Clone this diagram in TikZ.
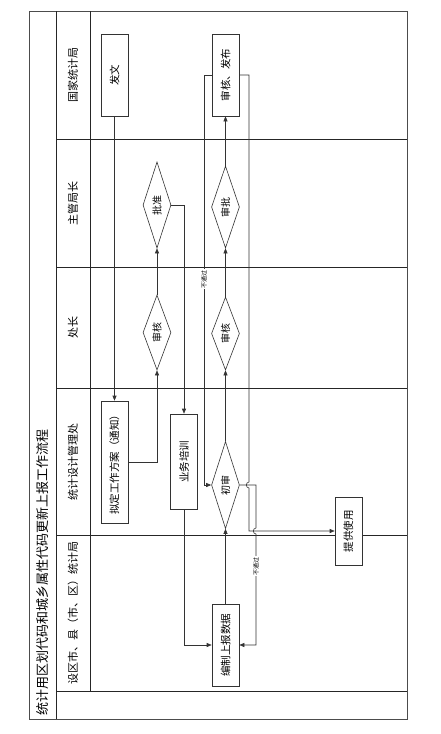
\documentclass[tikz,border=0pt]{standalone}
\usepackage{graphicx}
\usepackage{fontspec}
\newfontfamily\cjk{Noto Sans CJK SC}
\usetikzlibrary{shapes.geometric,arrows.meta}
\newcommand{\rt}[1]{\rotatebox{90}{#1}}
\begin{document}
\begin{tikzpicture}[x=1pt,y=-1pt,
  framel/.style={draw=black!70, line width=0.7pt},
  lanel/.style={draw=black!85, line width=0.7pt},
  box/.style={draw=black!80, line width=0.6pt, minimum width=27pt, inner sep=0pt, fill=white, font=\cjk\fontsize{10.5}{11}\selectfont},
  dia/.style={draw=black!80, line width=0.6pt, shape=diamond, shape aspect=0.34, minimum width=28pt, inner sep=0pt, fill=white, font=\cjk\fontsize{10}{10}\selectfont},
  conn/.style={draw=black!80, line width=0.6pt},
  arr/.style={conn, -{Triangle[length=5pt,width=4pt]}},
  lbl/.style={font=\cjk\fontsize{6}{6}\selectfont, fill=white, inner sep=0.6pt},
  lane/.style={font=\cjk\fontsize{11}{11}\selectfont, inner sep=0pt},
  ttl/.style={font=\cjk\fontsize{13}{13}\selectfont, inner sep=0pt}
]
\useasboundingbox (0,0) rectangle (440,734);

% frame
\draw[framel] (29,11) rectangle (407,719);
\draw[lanel] (56,11) -- (56,719);
\draw[lanel] (90,11) -- (90,691);
\foreach \yy in {139,267,388,535,691} \draw[lanel] (56,\yy) -- (407,\yy);

% title and lane labels
\node[ttl, anchor=south] (title) at (43,716) {\rt{统计用区划代码和城乡属性代码更新上报工作流程}};
\node[lane] (l1) at (73,75) {\rt{国家统计局}};
\node[lane] (l2) at (73,203) {\rt{主管局长}};
\node[lane] (l3) at (73,327.5) {\rt{处长}};
\node[lane] (l4) at (73,461.5) {\rt{统计设计管理处}};
\node[lane] (l5) at (73,613) {\rt{设区市、县（市、区）统计局}};

% nodes
\node[box, minimum height=82pt] (fawen) at (114.5,75) {\rt{发文}};
\node[box, minimum height=82pt] (shfb) at (225.5,75) {\rt{审核、发布}};
\node[dia, minimum height=86pt] (pz) at (157,205) {\rt{批准}};
\node[dia, minimum height=82pt] (sp) at (225.5,207) {\rt{审批}};
\node[dia, minimum height=75pt] (sh1) at (157,332.5) {\rt{审核}};
\node[dia, minimum height=73pt] (sh2) at (225.5,333.5) {\rt{审核}};
\node[box, minimum height=122pt] (nd) at (114.5,462) {\rt{拟定工作方案（通知）}};
\node[box, minimum height=95pt] (px) at (184,461.5) {\rt{业务培训}};
\node[dia, minimum height=87pt] (cs) at (225.5,485) {\rt{初审}};
\node[box, minimum height=68pt] (tg) at (348.5,531) {\rt{提供使用}};
\node[box, minimum height=82pt] (bz) at (225.5,645) {\rt{编制上报数据}};

% connectors
\draw[arr] (fawen.south) -- (nd.north);
\draw[arr] (nd.east) -| (sh1.south);
\draw[arr] (sh1.north) -- (pz.south);
\draw[arr] (pz.east) -| (px.north);
\draw[arr] (px.south) |- (bz.west);
\draw[arr] (bz.north) -- (cs.south);
\draw[arr] (cs.north) -- (sh2.south);
\draw[arr] (sh2.north) -- (sp.south);
\draw[arr] (sp.north) -- (shfb.south);
\draw[arr] (shfb.west) -- (204,75) -- (204,485) -- (cs.west);
\draw[arr] (shfb.east) -- (249,75) -- (249,482)
   .. controls (245.5,482) and (245.5,488) .. (249,488) -- (249,531) -- (tg.west);
\draw[arr] (cs.east) -- (256,485) -- (256,528)
   .. controls (252.5,528) and (252.5,534) .. (256,534) -- (256,645) -- (bz.east);

% labels
\node[lbl] (n1) at (204,279) {\rt{不通过}};
\node[lbl] (n2) at (256,566) {\rt{不通过}};
\end{tikzpicture}
\end{document}
